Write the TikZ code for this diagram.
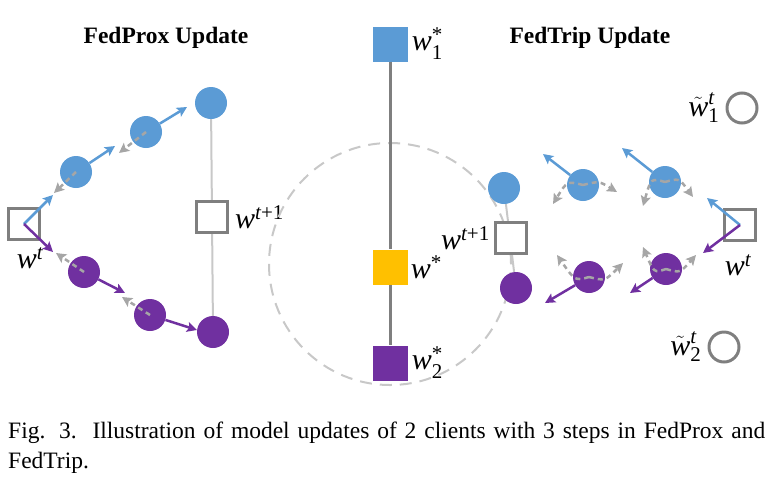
\documentclass[tikz,border=0pt]{standalone}
\usepackage{amsmath}
\usepackage{fontspec}
\setmainfont{Liberation Serif}
\usepackage{tikz}
\usetikzlibrary{arrows.meta,positioning}
\definecolor{cblue}{HTML}{5B9BD5}
\definecolor{cpurple}{HTML}{7030A0}
\definecolor{cyellow}{HTML}{FFC000}
\definecolor{cgray}{HTML}{7F7F7F}
\definecolor{clight}{HTML}{C8C8C8}
\definecolor{cpull}{HTML}{A6A6A6}
\tikzset
{
    bluenode/.style   = {circle, fill=cblue, inner sep=0pt, minimum size=32pt},
    purplenode/.style = {circle, fill=cpurple, inner sep=0pt, minimum size=32pt},
    boxnode/.style    = {rectangle, draw=cgray, line width=3pt, fill=white, inner sep=0pt, minimum size=31pt},
    ringnode/.style   = {circle, draw=cgray, line width=3pt, inner sep=0pt, minimum size=30pt},
    starnode/.style   = {rectangle, inner sep=0pt, minimum size=35pt},
    wlabel/.style     = {font=\fontsize{30}{30}\selectfont, inner sep=0pt},
    title/.style      = {font=\fontsize{23.5}{28}\selectfont\bfseries, anchor=base},
    grad/.style       = {->, line width=2.5pt},
    pull/.style       = {->, line width=2.5pt, color=cpull, dash pattern=on 5pt off 4pt}
}
\newcommand{\wt}[2]{$\textit{w}_{\text{#1}}^{#2}$}

\begin{document}
\begin{tikzpicture}[x=1pt, y=-1pt, >={Stealth[length=10pt, width=10pt, inset=2pt]}]
    \useasboundingbox (0,0) rectangle (775,493);

    \node [title] at (166,43) {FedProx Update};
    \node [title] at (590,43) {FedTrip Update};

    % FedProx
    \node [boxnode] (wtL) at (24,224) {};
    \node [bluenode] (bL1) at (76,172) {};
    \node [bluenode] (bL2) at (146,132) {};
    \node [bluenode] (bL3) at (211,103) {};
    \node [purplenode] (pL1) at (84,272) {};
    \node [purplenode] (pL2) at (150,315) {};
    \node [purplenode] (pL3) at (213,332) {};
    \draw [clight, line width=2pt] (bL3) -- (pL3);
    \node [boxnode] (wnL) at (212,217) {};
    \node [wlabel] at (30,258) {$\textit{w}^{\textit{t}}$};
    \node [wlabel, right=6pt of wnL] {$\textit{w}^{\textit{t}\text{+1}}$};

    \coordinate (gb1) at (53,195);
    \coordinate (gb2) at (115,146);
    \coordinate (gb3) at (187,107);
    \coordinate (gp1) at (53,252);
    \coordinate (gp2) at (125,293);
    \coordinate (gp3) at (197,330);
    \draw [grad, cblue] (wtL.center) -- (gb1);
    \draw [grad, cblue] (bL1) -- (gb2);
    \draw [grad, cblue] (bL2) -- (gb3);
    \draw [grad, cpurple] (wtL.center) -- (gp1);
    \draw [grad, cpurple] (pL1) -- (gp2);
    \draw [grad, cpurple] (pL2) -- (gp3);
    \draw [pull] (bL1.center) -- (54,193);
    \draw [pull] (bL2.center) -- (119,153);
    \draw [pull] (pL1.center) -- (56,253);
    \draw [pull] (pL2.center) -- (122,297);

    % optima
    \node [draw=clight, line width=2pt, dash pattern=on 12pt off 8pt, circle, inner sep=0pt, minimum size=242pt] (ball) at (390,264) {};
    \node [starnode, fill=cblue] (wone) at (390,44) {};
    \node [starnode, fill=cyellow] (wstar) at (390,267) {};
    \node [starnode, fill=cpurple] (wtwo) at (390,363) {};
    \draw [cgray, line width=3pt] (wone) -- (wstar) -- (wtwo);
    \node [wlabel, right=4pt of wone] {\wt{1}{\text{*}}};
    \node [wlabel, right=3pt of wstar] {$\textit{w}^{\text{*}}$};
    \node [wlabel, right=4pt of wtwo] {\wt{2}{\text{*}}};

    % FedTrip
    \node [bluenode] (bR0) at (504,188) {};
    \node [purplenode] (pR0) at (516,288) {};
    \draw [clight, line width=2pt] (bR0) -- (pR0);
    \node [boxnode] (wnR) at (511,238) {};
    \node [wlabel, left=4pt of wnR] {$\textit{w}^{\textit{t}\text{+1}}$};
    \node [bluenode] (bR1) at (583,185) {};
    \node [bluenode] (bR2) at (665,182) {};
    \node [purplenode] (pR1) at (589,277) {};
    \node [purplenode] (pR2) at (666,269) {};
    \node [boxnode] (wtR) at (740,225) {};
    \node [wlabel] at (738,265) {$\textit{w}^{\textit{t}}$};
    \node [ringnode] (tone) at (742,108) {};
    \node [ringnode] (ttwo) at (724,347) {};
    \node [wlabel, left=6pt of tone] {$\tilde{\textit{w}}_{\text{1}}^{\textit{t}}$};
    \node [wlabel, left=6pt of ttwo] {$\tilde{\textit{w}}_{\text{2}}^{\textit{t}}$};

    \draw [grad, cblue] (wtR.center) -- (707,198);
    \draw [grad, cpurple] (wtR.center) -- (703,253);
    \draw [grad, cblue] (bR2) -- (622,148);
    \draw [grad, cblue] (bR1) -- (543,154);
    \draw [grad, cpurple] (pR2) -- (630,293);
    \draw [grad, cpurple] (pR1) -- (545,303);
    \draw [pull] (bR1.center) .. controls +(-16,-4) .. (553,204);
    \draw [pull] (bR1.center) .. controls +(16,-4) .. (617,192);
    \draw [pull] (bR2.center) .. controls +(-14,-4) .. (643,206);
    \draw [pull] (bR2.center) .. controls +(14,-4) .. (693,197);
    \draw [pull] (pR1.center) .. controls +(-14,4) .. (557,255);
    \draw [pull] (pR1.center) .. controls +(16,4) .. (623,263);
    \draw [pull] (pR2.center) .. controls +(-12,4) .. (643,247);
    \draw [pull] (pR2.center) .. controls +(14,4) .. (696,255);

    % caption
    \node [anchor=base west, inner sep=0pt, font=\fontsize{23.5}{30}\selectfont] (cap1) at (8,438)
        {\makebox[757pt][s]{Fig. 3.\ \ Illustration of model updates of 2 clients with 3 steps in FedProx and}};
    \node [anchor=base west, inner sep=0pt, font=\fontsize{23.5}{30}\selectfont] (cap2) at (8,468) {FedTrip.};
\end{tikzpicture}
\end{document}
